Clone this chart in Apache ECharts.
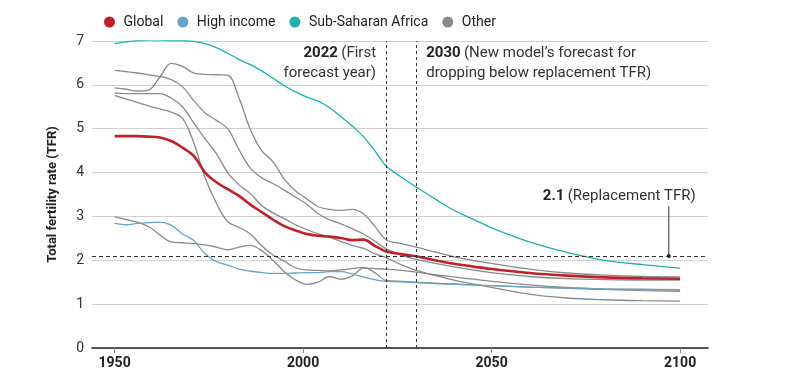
<!DOCTYPE html>
<html>
<head>
<meta charset="utf-8">
<script src="https://cdn.jsdelivr.net/npm/echarts@6/dist/echarts.min.js"></script>
<style>html,body{margin:0;padding:0;background:#fff}#c{width:800px;height:381px}</style>
</head>
<body>
<div id="c"></div>
<script>
const years = [1950,1953,1956,1959,1962,1965,1968,1971,1974,1977,1980,1983,1986,1989,1992,1995,1998,2001,2004,2007,2010,2013,2016,2019,2022,
  2026,2030,2035,2040,2045,2050,2060,2070,2080,2090,2100];
const globalTFR = [4.83,4.83,4.83,4.82,4.80,4.72,4.57,4.38,4.00,3.78,3.62,3.47,3.27,3.10,2.93,2.78,2.68,2.60,2.56,2.54,2.51,2.46,2.47,2.33,2.20,
  2.14,2.09,2.00,1.92,1.86,1.80,1.71,1.65,1.61,1.59,1.58];
const highIncome = [2.84,2.81,2.84,2.86,2.87,2.80,2.60,2.45,2.15,1.97,1.89,1.80,1.75,1.72,1.70,1.70,1.71,1.72,1.72,1.74,1.74,1.69,1.62,1.56,1.52,
  1.51,1.49,1.47,1.45,1.44,1.42,1.39,1.37,1.35,1.34,1.33];
const subSaharan = [6.94,6.98,7.01,7.02,7.02,7.01,7.01,6.99,6.94,6.85,6.72,6.58,6.46,6.32,6.15,5.98,5.84,5.72,5.63,5.48,5.28,5.06,4.82,4.50,4.15,
  3.90,3.67,3.40,3.14,2.94,2.74,2.42,2.18,2.00,1.90,1.82];
const otherA = [6.33,6.30,6.27,6.23,6.19,6.12,5.96,5.64,5.36,5.19,5.00,4.52,4.10,3.88,3.75,3.60,3.44,3.28,3.06,2.92,2.83,2.72,2.60,2.44,2.26,
  2.12,2.02,1.93,1.85,1.78,1.72,1.63,1.58,1.56,1.55,1.55];
const otherB = [5.93,5.90,5.86,5.88,6.18,6.49,6.42,6.27,6.24,6.23,6.22,5.70,4.98,4.50,4.25,3.85,3.58,3.40,3.22,3.16,3.14,3.16,3.06,2.78,2.47,
  2.38,2.30,2.19,2.08,2.00,1.93,1.80,1.71,1.66,1.63,1.62];
const otherC = [5.81,5.80,5.80,5.80,5.80,5.70,5.50,5.13,4.77,4.43,4.00,3.72,3.52,3.25,3.08,2.95,2.81,2.70,2.60,2.53,2.43,2.34,2.27,2.15,2.06,
  1.90,1.77,1.65,1.55,1.46,1.38,1.23,1.14,1.10,1.08,1.07];
const otherD = [5.76,5.68,5.60,5.52,5.45,5.38,5.24,4.68,3.88,3.30,2.88,2.75,2.60,2.33,2.12,1.98,1.83,1.78,1.77,1.76,1.78,1.81,1.84,1.72,1.54,
  1.52,1.50,1.48,1.46,1.44,1.42,1.39,1.36,1.34,1.33,1.32];
const otherE = [2.99,2.93,2.87,2.77,2.58,2.42,2.40,2.38,2.35,2.30,2.24,2.30,2.34,2.22,2.00,1.74,1.55,1.45,1.50,1.63,1.57,1.64,1.82,1.81,1.80,
  1.77,1.73,1.67,1.62,1.57,1.52,1.44,1.38,1.34,1.31,1.29];
const xTicks = [1950, 2000, 2050, 2100];
const forecastYear = 2022, droppingYear = 2030, replacementTFR = 2.1;

const FONT = 'Roboto, "Noto Sans", sans-serif';
const C = { global: '#c0202a', high: '#68a3c7', ssa: '#1fb0ae', other: '#8a8a8a' };
const pair = arr => years.map((y, i) => [y, arr[i]]);

function line(name, arr, color, width, z) {
  return { name, type: 'line', data: pair(arr), smooth: 0.35, showSymbol: false, symbol: 'none',
    lineStyle: { color, width }, itemStyle: { color }, z, emphasis: { disabled: true }, silent: true };
}

const chart = echarts.init(document.getElementById('c'), null, { renderer: 'canvas' });
const refLines = {
  type: 'line', data: [], silent: true,
  markLine: {
    symbol: 'none', silent: true, label: { show: false },
    data: [
      { xAxis: forecastYear, lineStyle: { type: [3, 3], color: '#333', width: 1 } },
      { xAxis: droppingYear, lineStyle: { type: [3, 3], color: '#333', width: 1 } },
      { yAxis: replacementTFR, lineStyle: { type: [4, 3], color: '#333', width: 1 } }
    ]
  }
};

chart.setOption({
  animation: false,
  textStyle: { fontFamily: FONT },
  grid: { left: 92, right: 92, top: 41, bottom: 33 },
  legend: {
    left: 99, top: 10, icon: 'circle', itemWidth: 18, itemHeight: 11, itemGap: 14,
    textStyle: { fontSize: 14, color: '#222', fontFamily: FONT },
    data: [
      { name: 'Global', itemStyle: { color: C.global } },
      { name: 'High income', itemStyle: { color: C.high } },
      { name: 'Sub-Saharan Africa', itemStyle: { color: C.ssa } },
      { name: 'Other', itemStyle: { color: C.other } }
    ]
  },
  xAxis: {
    type: 'value', min: 1944, max: 2107.4,
    axisLine: { show: true, lineStyle: { color: '#222', width: 1.6 } },
    axisTick: { show: true, customValues: xTicks, length: 5, lineStyle: { color: '#888' } },
    axisLabel: { customValues: xTicks, formatter: v => String(v), fontSize: 14, fontWeight: 'bold', color: '#222', margin: 8, fontFamily: FONT },
    splitLine: { show: false }
  },
  yAxis: {
    type: 'value', min: 0, max: 7, interval: 1,
    name: 'Total fertility rate (TFR)', nameLocation: 'middle', nameGap: 33,
    nameTextStyle: { fontSize: 13, fontWeight: 'bold', color: '#222', fontFamily: FONT },
    axisLine: { show: false }, axisTick: { show: false },
    axisLabel: { fontSize: 14, color: '#333', margin: 8, fontFamily: FONT },
    splitLine: { lineStyle: { color: '#cfcfcf', width: 1 } }
  },
  series: [
    line('Other', otherA, C.other, 1.3, 2),
    line('Other', otherB, C.other, 1.3, 2),
    line('Other', otherC, C.other, 1.3, 2),
    line('Other', otherD, C.other, 1.3, 2),
    line('Other', otherE, C.other, 1.3, 2),
    line('High income', highIncome, C.high, 1.3, 3),
    line('Sub-Saharan Africa', subSaharan, C.ssa, 1.3, 3),
    line('Global', globalTFR, C.global, 2.6, 4),
    refLines
  ]
});

const px = v => chart.convertToPixel({ gridIndex: 0 }, v);
const pTop22 = px([forecastYear, 7]);
const pTop30 = px([droppingYear, 7]);
const pRepl = px([2097, replacementTFR]);
const pPtrTop = px([2097, 3.23]);
const rich = {
  b: { fontFamily: FONT, fontSize: 15, fontWeight: 'bold', fill: '#222', lineHeight: 20 },
  n: { fontFamily: FONT, fontSize: 15, fill: '#333', lineHeight: 20 }
};
chart.setOption({
  graphic: [
    { type: 'text', x: pTop22[0] - 10, y: pTop22[1] + 2, z: 10,
      style: { text: '{b|2022} {n|(First}\n{n|forecast year)}', rich, align: 'right', verticalAlign: 'top' } },
    { type: 'text', x: pTop30[0] + 10, y: pTop30[1] + 2, z: 10,
      style: { text: '{b|2030} {n|(New model\u2019s forecast for}\n{n|dropping below replacement TFR)}', rich, align: 'left', verticalAlign: 'top' } },
    { type: 'text', x: pRepl[0] + 27, y: pPtrTop[1] - 10, z: 10,
      style: { text: '{b|2.1} {n|(Replacement TFR)}', rich, align: 'right', verticalAlign: 'middle' } },
    { type: 'line', z: 10, shape: { x1: pRepl[0], y1: pPtrTop[1], x2: pRepl[0], y2: pRepl[1] },
      style: { stroke: '#333', lineWidth: 1 } },
    { type: 'circle', z: 10, shape: { cx: pRepl[0], cy: pRepl[1], r: 2 }, style: { fill: '#222' } }
  ]
});
</script>
</body>
</html>
